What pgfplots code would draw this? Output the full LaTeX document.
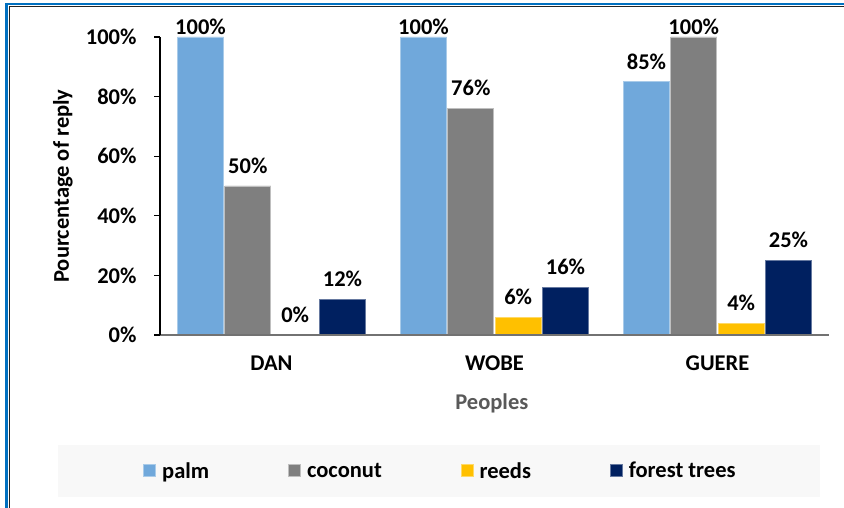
\documentclass[border=0pt]{standalone}
\usepackage{fontspec}
\setmainfont{Carlito}
\usepackage{pgfplots}
\pgfplotsset{compat=1.18}
\definecolor{cpalm}{HTML}{70A8DB}
\definecolor{ccoco}{HTML}{7F7F7F}
\definecolor{creed}{HTML}{FFC000}
\definecolor{cforest}{HTML}{002060}
\definecolor{frameblue}{HTML}{0070C0}
\definecolor{labgrey}{HTML}{595959}
\definecolor{legbg}{HTML}{F8F8F8}
\newcommand{\ff}{\bfseries\fontsize{22.5bp}{26bp}\selectfont}
\begin{document}
\begin{tikzpicture}
\path[use as bounding box] (0,0) rectangle (844bp,508bp);
\fill[white] (0,0) rectangle (844bp,508bp);
\fill[legbg] (58bp,11bp) rectangle (820bp,63bp);
\draw[frameblue, line width=2.5bp] (6.5bp,0) -- (6.5bp,504bp) -- (844bp,504bp);
\draw[black!85, line width=1.3bp] (9.5bp,0) -- (9.5bp,501.5bp) -- (844bp,501.5bp);
\begin{axis}[
  at={(160bp,173bp)}, anchor=south west,
  scale only axis, width=669bp, height=298bp,
  ybar, clip=false, axis on top,
  xmin=-0.5, xmax=2.5, ymin=0, ymax=100,
  xtick={0,1,2}, xticklabels={DAN,WOBE,GUERE},
  ytick={0,20,40,60,80,100},
  /pgf/number format/assume math mode=true,
  yticklabel={\pgfmathprintnumber{\tick}\%},
  axis x line=bottom, axis y line=left,
  x axis line style={-, line width=2.5bp, color=ccoco!90!black},
  y axis line style={-, line width=1.2bp, color=black},
  major x tick style={draw=none},
  major y tick style={line width=1.2bp, color=black},
  tick align=outside, major tick length=6bp,
  ticklabel style={font=\ff, text=black},
  xticklabel style={yshift=-11.5bp},
  yticklabel style={xshift=-14bp},
  ylabel={Pourcentage of reply},
  ylabel style={at={(axis description cs:-0.145,0.5)}, anchor=center, font=\ff},
  xlabel={Peoples},
  xlabel style={at={(axis description cs:0.496,-0.228)}, anchor=center, font=\ff, text=labgrey},
  bar width=46bp,
  visualization depends on=rawy \as \rawy,
  nodes near coords={\pgfmathprintnumber{\pgfplotspointmeta}\%},
  every node near coord/.append style={font=\ff, text=black, inner sep=1bp,
     yshift={(\rawy>99 ? 1 : 11)*1bp}},
  legend columns=4,
  legend style={at={(axis description cs:0.4223,-0.456)}, anchor=center, draw=none, fill=none, font=\ff,
    nodes={inner xsep=6bp},
    /tikz/every even column/.append style={column sep=73bp}},
  legend image code/.code={\fill[#1] (-3bp,-6bp) rectangle (9bp,6bp);},
]
\addplot[fill=cpalm, draw=cpalm!60!white, line width=0.8bp, bar shift=-71bp] coordinates {(0,100) (1,100) (2,85)};
\addplot[fill=ccoco, draw=ccoco!50!white, line width=0.8bp, bar shift=-23.7bp] coordinates {(0,50) (1,76) (2,100)};
\addplot[fill=creed, draw=creed!60!white, line width=0.8bp, bar shift=23.7bp] coordinates {(0,0) (1,6) (2,4)};
\addplot[fill=cforest, draw=cforest!60!white, line width=0.8bp, bar shift=71bp] coordinates {(0,12) (1,16) (2,25)};
\legend{palm, coconut, reeds, forest trees}
\end{axis}
\end{tikzpicture}
\end{document}
